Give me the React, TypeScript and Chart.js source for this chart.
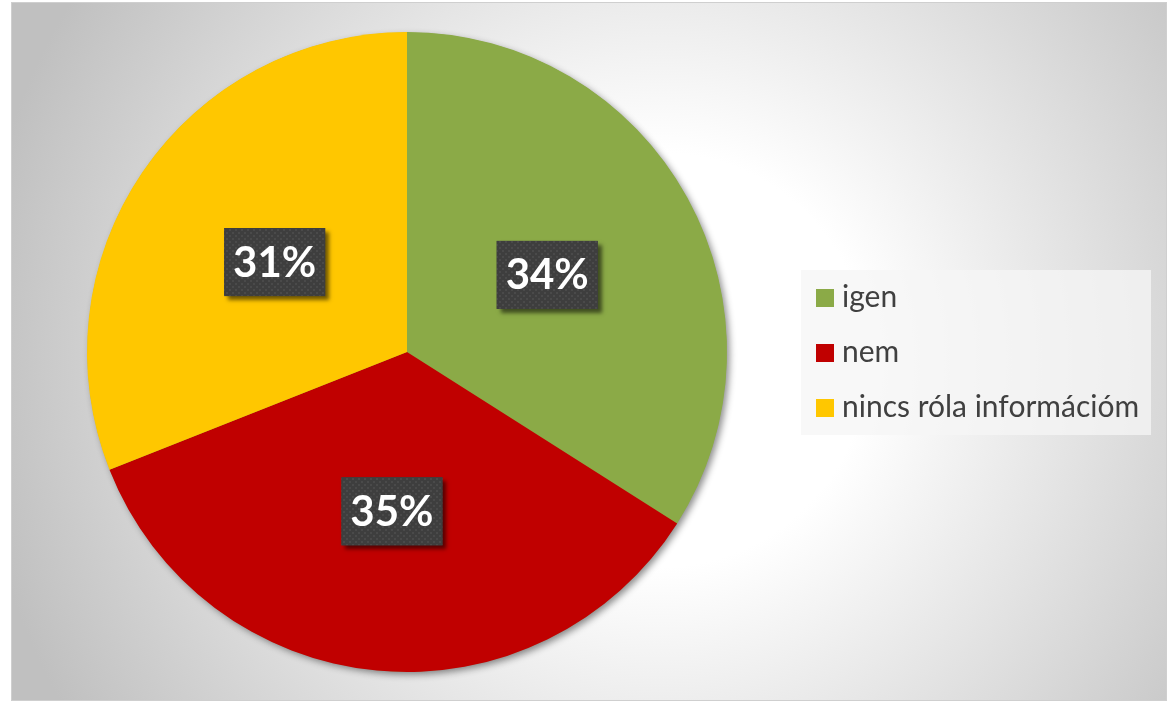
import React, { useEffect, useRef } from "react";
import { Chart, registerables } from "chart.js";

Chart.register(...registerables);

const categories = ["igen", "nem", "nincs róla információm"];
const values = [34, 35, 31];
const colors = ["#8BAA47", "#C00000", "#FFC700"];

const W = 1172;
const H = 702;

const backgroundPlugin = {
  id: "bgFrame",
  beforeDraw(chart: any) {
    const ctx = chart.ctx as CanvasRenderingContext2D;
    ctx.save();
    ctx.fillStyle = "#ffffff";
    ctx.fillRect(0, 0, W, H);
    const x0 = 11, y0 = 2, x1 = 1167, y1 = 701;
    const g = ctx.createRadialGradient(660, 360, 0, 660, 360, 690);
    g.addColorStop(0, "#ffffff");
    g.addColorStop(0.3, "#ffffff");
    g.addColorStop(1, "#c0c0c0");
    ctx.fillStyle = g;
    ctx.fillRect(x0, y0, x1 - x0, y1 - y0);
    ctx.strokeStyle = "#cfcfcf";
    ctx.lineWidth = 1;
    ctx.strokeRect(x0 + 0.5, y0 + 0.5, x1 - x0 - 1, y1 - y0 - 1);
    ctx.restore();
  },
  beforeDatasetsDraw(chart: any) {
    const meta = chart.getDatasetMeta(0);
    const arc = meta.data[0];
    if (!arc) return;
    const ctx = chart.ctx as CanvasRenderingContext2D;
    ctx.save();
    ctx.shadowColor = "rgba(0,0,0,0.45)";
    ctx.shadowBlur = 7;
    ctx.shadowOffsetX = 3;
    ctx.shadowOffsetY = 3;
    ctx.fillStyle = colors[0];
    ctx.beginPath();
    ctx.arc(arc.x, arc.y, arc.outerRadius - 0.5, 0, Math.PI * 2);
    ctx.fill();
    ctx.restore();
  },
};

let patternCache: CanvasPattern | null = null;
function getPattern(ctx: CanvasRenderingContext2D) {
  if (patternCache) return patternCache;
  const c = document.createElement("canvas");
  c.width = 6;
  c.height = 6;
  const p = c.getContext("2d")!;
  p.fillStyle = "#3e3e3e";
  p.fillRect(0, 0, 6, 6);
  p.fillStyle = "#4a4a4a";
  p.fillRect(1, 1, 2, 2);
  p.fillRect(4, 4, 2, 2);
  patternCache = ctx.createPattern(c, "repeat");
  return patternCache;
}

const labelPlugin = {
  id: "pctLabels",
  afterDatasetsDraw(chart: any) {
    const ctx = chart.ctx as CanvasRenderingContext2D;
    const meta = chart.getDatasetMeta(0);
    const data = chart.data.datasets[0].data as number[];
    const total = data.reduce((a, b) => a + b, 0);
    meta.data.forEach((el: any, i: number) => {
      const pos = el.tooltipPosition();
      const txt = Math.round((data[i] / total) * 100) + "%";
      const bw = 101, bh = 68;
      const bx = pos.x - bw / 2, by = pos.y - bh / 2;
      ctx.save();
      ctx.shadowColor = "rgba(0,0,0,0.55)";
      ctx.shadowBlur = 4;
      ctx.shadowOffsetX = 4;
      ctx.shadowOffsetY = 4;
      ctx.fillStyle = "#3f3f3f";
      ctx.fillRect(bx, by, bw, bh);
      ctx.restore();
      ctx.save();
      ctx.fillStyle = getPattern(ctx) || "#3f3f3f";
      ctx.fillRect(bx, by, bw, bh);
      ctx.fillStyle = "#ffffff";
      ctx.font = "bold 42px Lato";
      ctx.textAlign = "center";
      ctx.textBaseline = "middle";
      ctx.fillText(txt, pos.x, pos.y + 1);
      ctx.restore();
    });
  },
};

const legendPlugin = {
  id: "customLegend",
  afterDraw(chart: any) {
    const ctx = chart.ctx as CanvasRenderingContext2D;
    const labels = chart.data.labels as string[];
    const bg = chart.data.datasets[0].backgroundColor as string[];
    ctx.save();
    ctx.fillStyle = "rgba(245,245,245,0.75)";
    ctx.fillRect(801, 270, 350, 165);
    ctx.font = "30px Lato";
    ctx.textBaseline = "alphabetic";
    ctx.textAlign = "left";
    labels.forEach((lab, i) => {
      const sy = 289 + i * 55;
      ctx.fillStyle = bg[i];
      ctx.fillRect(816, sy, 18, 18);
      ctx.fillStyle = "#404040";
      ctx.fillText(lab, 842, sy + 18);
    });
    ctx.restore();
  },
};

export default function App() {
  const ref = useRef<HTMLCanvasElement>(null);
  useEffect(() => {
    document.body.style.margin = "0";
    const canvas = ref.current!;
    const chart = new Chart(canvas, {
      type: "pie",
      data: {
        labels: categories,
        datasets: [
          {
            data: values,
            backgroundColor: colors,
            borderWidth: 0,
          },
        ],
      },
      options: {
        responsive: false,
        animation: false,
        layout: { padding: { left: 87, top: 32, right: 445, bottom: 30 } },
        plugins: {
          legend: { display: false },
          tooltip: { enabled: false },
          title: { display: false },
        },
      },
      plugins: [backgroundPlugin, labelPlugin, legendPlugin],
    });
    return () => chart.destroy();
  }, []);
  return (
    <div style={{ width: W, height: H }}>
      <canvas ref={ref} width={W} height={H} style={{ display: "block" }} />
    </div>
  );
}
